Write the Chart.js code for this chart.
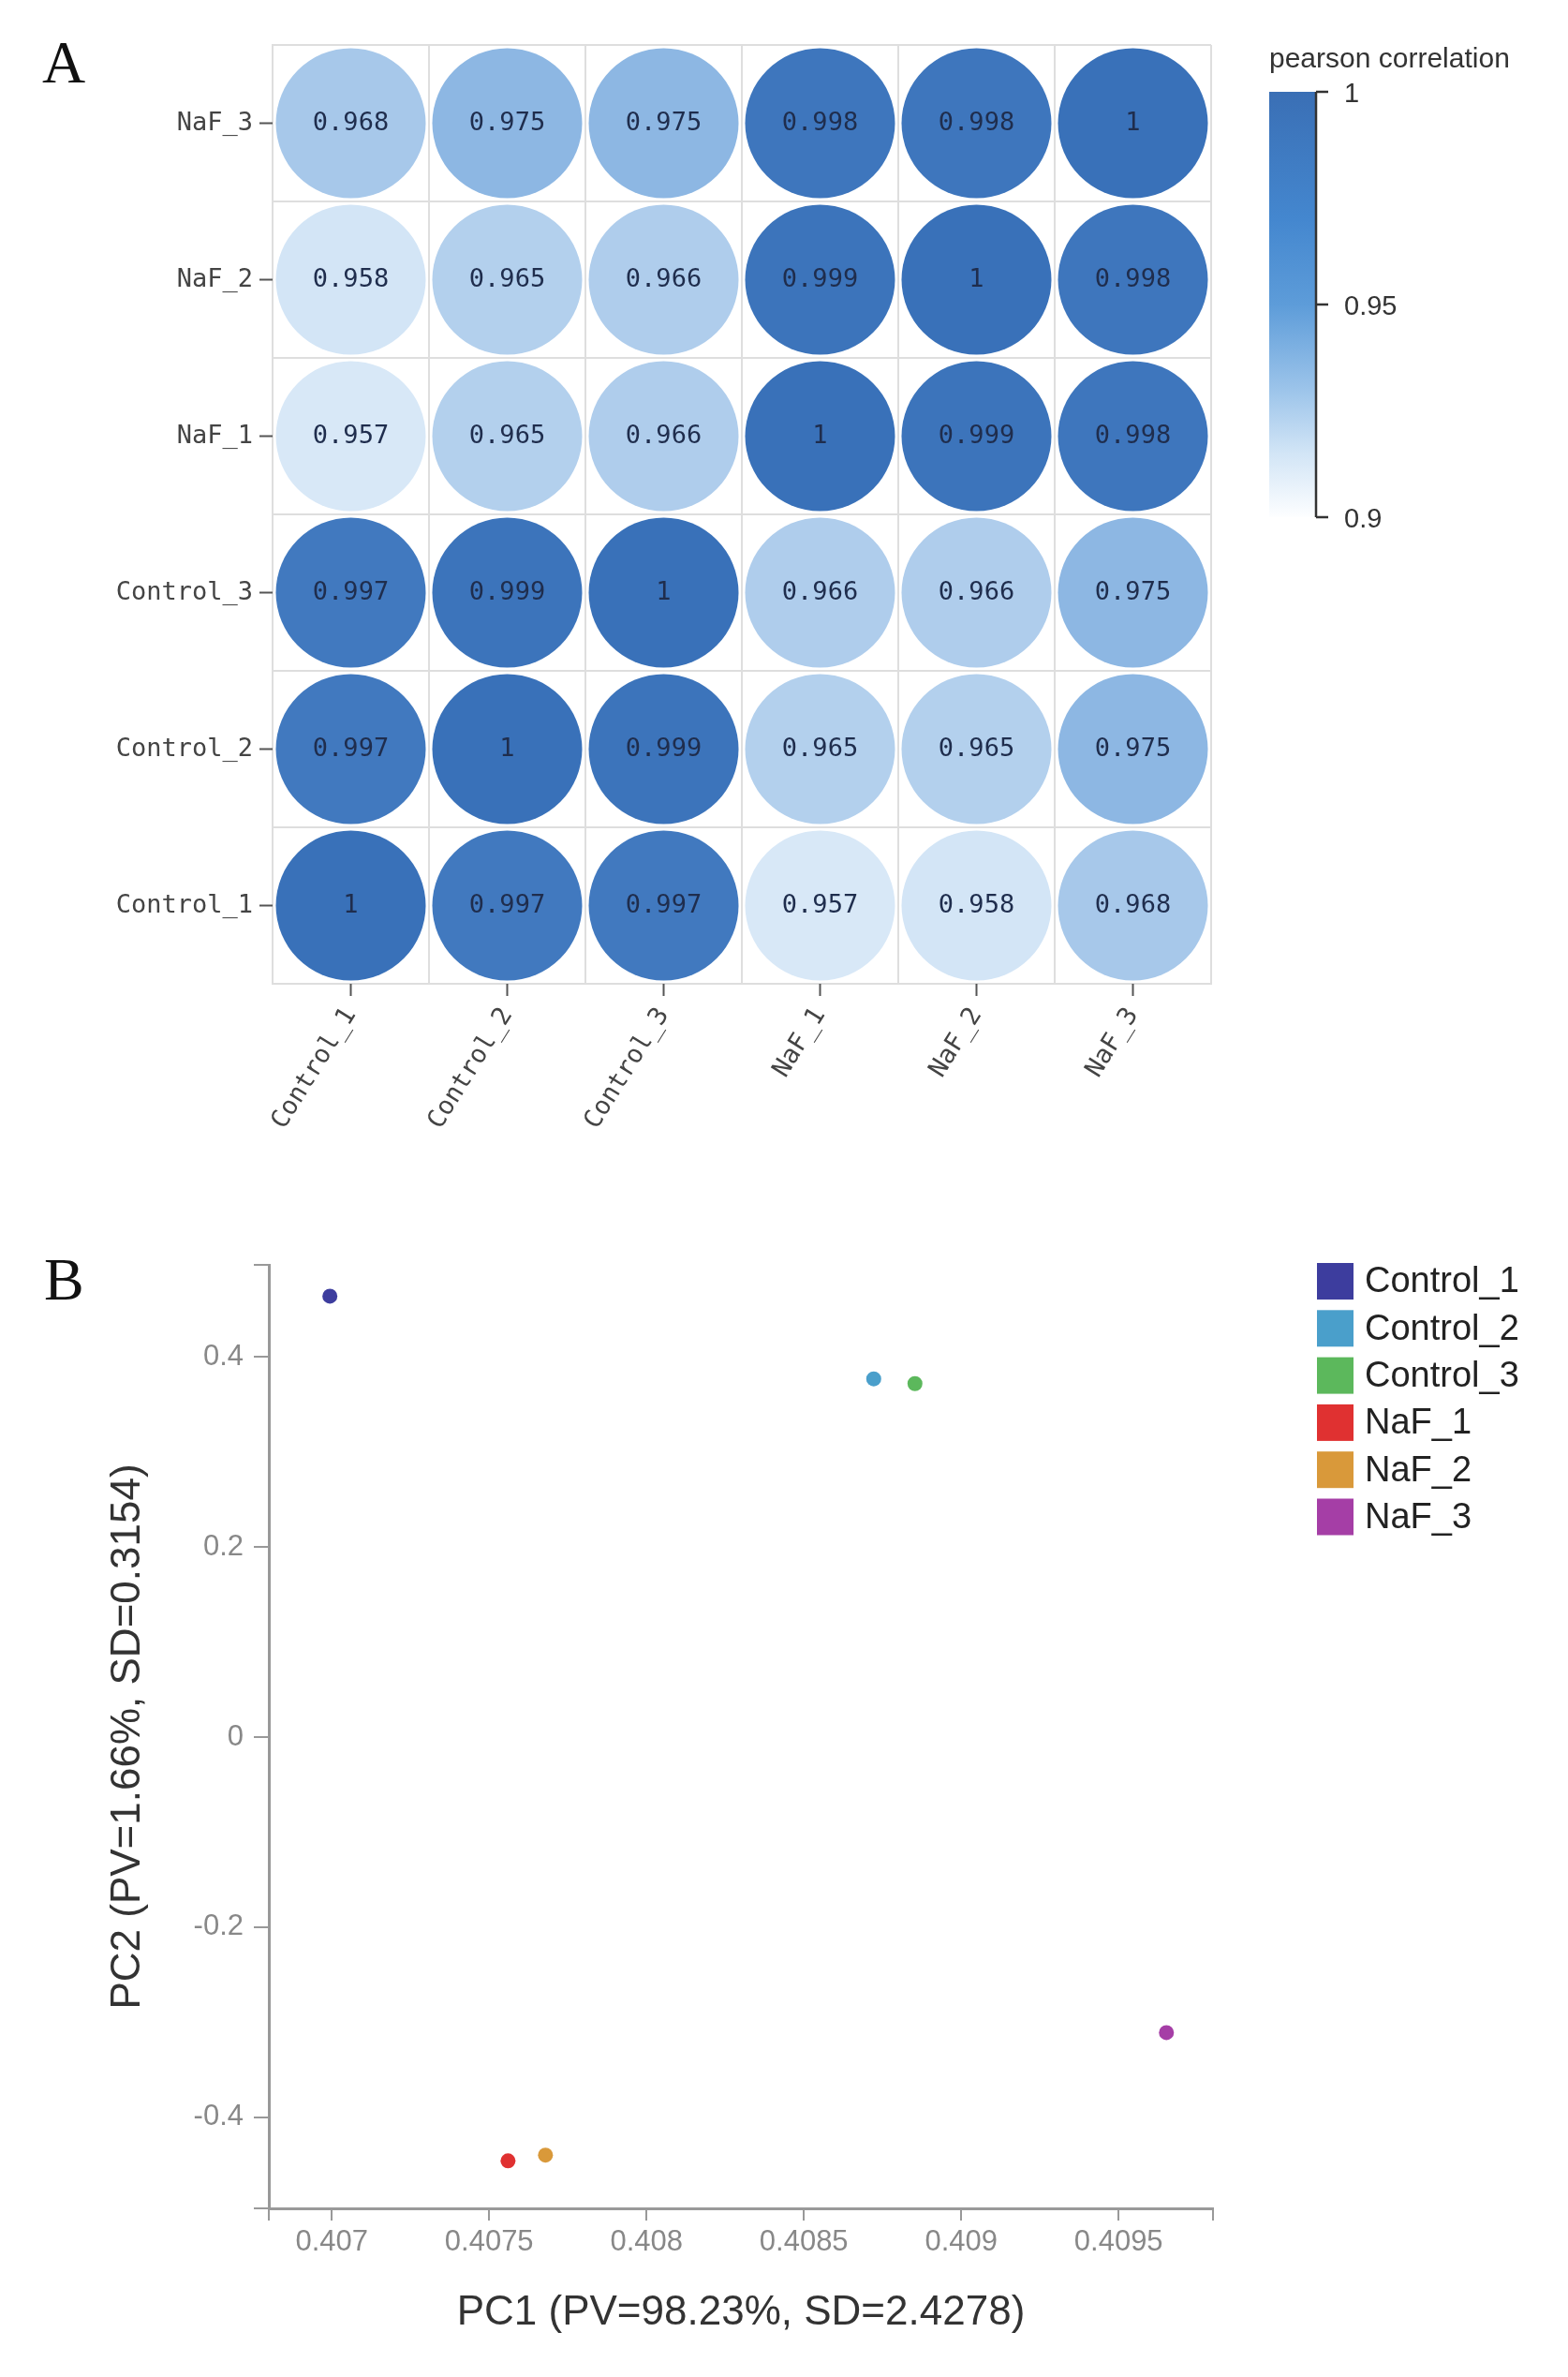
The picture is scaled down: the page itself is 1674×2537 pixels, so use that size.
<!DOCTYPE html>
<html lang="en">
<head>
    <meta charset="UTF-8">
    <title>Sample correlation and PCA</title>
    <script src="https://cdn.jsdelivr.net/npm/chart.js"></script>
    <style>
        body { margin: 0; background: #fff; }
        .page { position: relative; width: 1674px; height: 2537px; overflow: hidden; background: #fff; }
        .panel-label { position: absolute; z-index: 2; font-family: 'Liberation Serif', serif; font-size: 64px; line-height: 1; color: #111; }
        #corrBox { position: absolute; left: 0; top: 0; width: 1674px; height: 1250px; }
        #pcaBox { position: absolute; left: 0; top: 1290px; width: 1674px; height: 1247px; }
    </style>
</head>
<body>
<div class="page">
    <div id="corrBox"><canvas id="corrChart"></canvas></div>
    <div id="pcaBox"><canvas id="pcaChart"></canvas></div>
    <div class="panel-label" style="left:45px; top:35px;">A</div>
    <div class="panel-label" style="left:47px; top:1334px;">B</div>
</div>

<script>
    const sampleNames = ['Control_1', 'Control_2', 'Control_3', 'NaF_1', 'NaF_2', 'NaF_3'];

    // pearson correlation, one row per sample (columns in sampleNames order)
    const corrControl1 = [1, 0.997, 0.997, 0.957, 0.958, 0.968];
    const corrControl2 = [0.997, 1, 0.999, 0.965, 0.965, 0.975];
    const corrControl3 = [0.997, 0.999, 1, 0.966, 0.966, 0.975];
    const corrNaF1 = [0.957, 0.965, 0.966, 1, 0.999, 0.998];
    const corrNaF2 = [0.958, 0.965, 0.966, 0.999, 1, 0.998];
    const corrNaF3 = [0.968, 0.975, 0.975, 0.998, 0.998, 1];
    const corrRows = [corrControl1, corrControl2, corrControl3, corrNaF1, corrNaF2, corrNaF3];
    const colorbarTicks = [0.9, 0.95, 1];

    // PCA scores
    const pc1Scores = [0.406994, 0.408722, 0.408853, 0.407560, 0.407679, 0.409652];
    const pc2Scores = [0.464, 0.377, 0.372, -0.446, -0.440, -0.311];
    const pc1Ticks = [0.407, 0.4075, 0.408, 0.4085, 0.409, 0.4095];
    const pc2Ticks = [-0.4, -0.2, 0, 0.2, 0.4];
    const pc1Range = [0.4068, 0.4098];
    const pc2Range = [-0.496, 0.497];

    const sampleColors = ['#3d3d9e', '#4a9fcb', '#5cb85c', '#e03131', '#d9993a', '#a53ea6'];

    // light -> dark blue for the circles
    const circleStops = [
        [0, [216, 232, 247]],
        [0.19, [178, 207, 237]],
        [0.42, [141, 183, 227]],
        [0.7, [90, 146, 210]],
        [1, [57, 113, 185]]
    ];

    function circleColor(v, lo, hi) {
        const t = Math.max(0, Math.min(1, (v - lo) / (hi - lo)));
        for (let i = 1; i < circleStops.length; i++) {
            const [t0, c0] = circleStops[i - 1];
            const [t1, c1] = circleStops[i];
            if (t <= t1) {
                const f = (t - t0) / (t1 - t0);
                const c = c0.map((a, k) => Math.round(a + (c1[k] - a) * f));
                return `rgb(${c.join(',')})`;
            }
        }
        return 'rgb(57,113,185)';
    }

    const corrLo = Math.min(...corrRows.flat());
    const corrHi = Math.max(...corrRows.flat());

    const bubblePoints = [];
    corrRows.forEach((row, i) => {
        row.forEach((v, j) => {
            bubblePoints.push({ x: sampleNames[j], y: sampleNames[i], v: v });
        });
    });

    // numbers inside the circles
    const cellLabels = {
        id: 'cellLabels',
        afterDatasetsDraw(chart) {
            const { ctx } = chart;
            const meta = chart.getDatasetMeta(0);
            const data = chart.data.datasets[0].data;
            ctx.save();
            ctx.font = "27px 'DejaVu Sans Mono'";
            ctx.fillStyle = '#1f2d4d';
            ctx.textAlign = 'center';
            ctx.textBaseline = 'middle';
            meta.data.forEach((el, i) => {
                const v = data[i].v;
                ctx.fillText(v === 1 ? '1' : v.toFixed(3), el.x, el.y);
            });
            ctx.restore();
        }
    };

    // tick marks at cell centres + the colour bar
    const corrDecor = {
        id: 'corrDecor',
        afterDraw(chart) {
            const { ctx, chartArea, scales: { x, y } } = chart;
            ctx.save();
            ctx.strokeStyle = '#555';
            ctx.lineWidth = 2;
            ctx.beginPath();
            sampleNames.forEach((name, i) => {
                const px = x.getPixelForValue(i);
                ctx.moveTo(px, chartArea.bottom);
                ctx.lineTo(px, chartArea.bottom + 13);
                const py = y.getPixelForValue(i);
                ctx.moveTo(chartArea.left - 14, py);
                ctx.lineTo(chartArea.left, py);
            });
            ctx.stroke();

            const barLeft = chartArea.right + 62, barRight = barLeft + 50;
            const barTop = 98, barBottom = 552;
            const grad = ctx.createLinearGradient(0, barTop, 0, barBottom);
            grad.addColorStop(0, '#3a6fb5');
            grad.addColorStop(0.3, '#4487cf');
            grad.addColorStop(0.5, '#5d9cd9');
            grad.addColorStop(0.7, '#9cc4ea');
            grad.addColorStop(0.85, '#d2e5f6');
            grad.addColorStop(1, '#fdfeff');
            ctx.fillStyle = grad;
            ctx.fillRect(barLeft, barTop, barRight - barLeft, barBottom - barTop);

            ctx.strokeStyle = '#333';
            ctx.lineWidth = 2.5;
            ctx.beginPath();
            ctx.moveTo(barRight, barTop);
            ctx.lineTo(barRight, barBottom);
            const lo = colorbarTicks[0], hi = colorbarTicks[colorbarTicks.length - 1];
            ctx.font = "29px 'Liberation Sans'";
            ctx.fillStyle = '#333';
            ctx.textBaseline = 'middle';
            colorbarTicks.forEach(v => {
                const ty = barBottom - (v - lo) / (hi - lo) * (barBottom - barTop);
                ctx.moveTo(barRight, ty);
                ctx.lineTo(barRight + 13, ty);
                ctx.fillText(String(v), barRight + 30, ty + 3);
            });
            ctx.stroke();

            ctx.font = "30px 'Liberation Sans'";
            ctx.textBaseline = 'alphabetic';
            ctx.fillText('pearson correlation', barLeft, 72);
            ctx.restore();
        }
    };

    const monoFont = { family: 'DejaVu Sans Mono', size: 27 };

    new Chart(document.getElementById('corrChart'), {
        type: 'bubble',
        data: {
            datasets: [{
                data: bubblePoints,
                radius: 80,
                hoverRadius: 0,
                borderWidth: 0,
                backgroundColor: ctx => ctx.raw ? circleColor(ctx.raw.v, corrLo, corrHi) : '#aac'
            }]
        },
        options: {
            responsive: true,
            maintainAspectRatio: false,
            animation: false,
            clip: false,
            layout: { autoPadding: false, padding: { top: 48, right: 381, bottom: 20, left: 0 } },
            plugins: { legend: { display: false }, tooltip: { enabled: false } },
            scales: {
                x: {
                    type: 'category',
                    labels: sampleNames,
                    offset: true,
                    grid: { offset: true, color: '#dedede', lineWidth: 2, drawTicks: false },
                    border: { color: '#dedede', width: 2 },
                    ticks: { autoSkip: false, minRotation: 58, maxRotation: 58, padding: 20, color: '#444', font: monoFont },
                    afterFit: s => { s.height = 180; }
                },
                y: {
                    type: 'category',
                    labels: sampleNames,
                    offset: true,
                    reverse: true,
                    grid: { offset: true, color: '#dedede', lineWidth: 2, drawTicks: false },
                    border: { color: '#dedede', width: 2 },
                    ticks: { autoSkip: false, padding: 21, color: '#444', font: monoFont },
                    afterFit: s => { s.width = 291; }
                }
            }
        },
        plugins: [cellLabels, corrDecor]
    });

    // legend for the PCA plot
    const pcaLegend = {
        id: 'pcaLegend',
        afterDraw(chart) {
            const { ctx } = chart;
            ctx.save();
            ctx.font = "38px 'Liberation Sans'";
            ctx.textBaseline = 'middle';
            chart.data.datasets.forEach((ds, i) => {
                const top = 58 + i * 50.3;
                ctx.fillStyle = ds.backgroundColor;
                ctx.fillRect(1406, top, 39, 39);
                ctx.fillStyle = '#222';
                ctx.fillText(ds.label, 1457, top + 21);
            });
            ctx.restore();
        }
    };

    const tickFont = { family: 'Liberation Sans', size: 31 };
    const titleFont = { family: 'Liberation Sans', size: 44 };

    new Chart(document.getElementById('pcaChart'), {
        type: 'scatter',
        data: {
            datasets: sampleNames.map((name, i) => ({
                label: name,
                data: [{ x: pc1Scores[i], y: pc2Scores[i] }],
                backgroundColor: sampleColors[i],
                borderWidth: 0,
                pointRadius: 8,
                pointHoverRadius: 8
            }))
        },
        options: {
            responsive: true,
            maintainAspectRatio: false,
            animation: false,
            layout: { autoPadding: false, padding: { top: 60, right: 379, bottom: 0, left: 0 } },
            plugins: { legend: { display: false }, tooltip: { enabled: false } },
            scales: {
                x: {
                    type: 'linear',
                    min: pc1Range[0],
                    max: pc1Range[1],
                    afterBuildTicks: s => { s.ticks = [s.min, ...pc1Ticks, s.max].map(v => ({ value: v })); },
                    ticks: {
                        autoSkip: false, maxRotation: 0, padding: 5, color: '#888', font: tickFont,
                        callback: v => pc1Ticks.includes(v) ? String(v) : ''
                    },
                    grid: { drawOnChartArea: false, color: '#999', lineWidth: 2, tickLength: 13 },
                    border: { color: '#999', width: 3 },
                    title: { display: true, text: 'PC1 (PV=98.23%, SD=2.4278)', color: '#333', font: titleFont, padding: { bottom: 42 } },
                    afterFit: s => { s.height = 180; }
                },
                y: {
                    type: 'linear',
                    min: pc2Range[0],
                    max: pc2Range[1],
                    afterBuildTicks: s => { s.ticks = [s.min, ...pc2Ticks, s.max].map(v => ({ value: v })); },
                    ticks: {
                        autoSkip: false, padding: 11, color: '#888', font: tickFont,
                        callback: v => pc2Ticks.includes(v) ? String(v) : ''
                    },
                    grid: { drawOnChartArea: false, color: '#999', lineWidth: 2, tickLength: 16 },
                    border: { color: '#999', width: 3 },
                    title: { display: true, text: 'PC2 (PV=1.66%, SD=0.3154)', color: '#333', font: titleFont, padding: { top: 110 } },
                    afterFit: s => { s.width = 287; }
                }
            }
        },
        plugins: [pcaLegend]
    });
</script>
</body>
</html>
